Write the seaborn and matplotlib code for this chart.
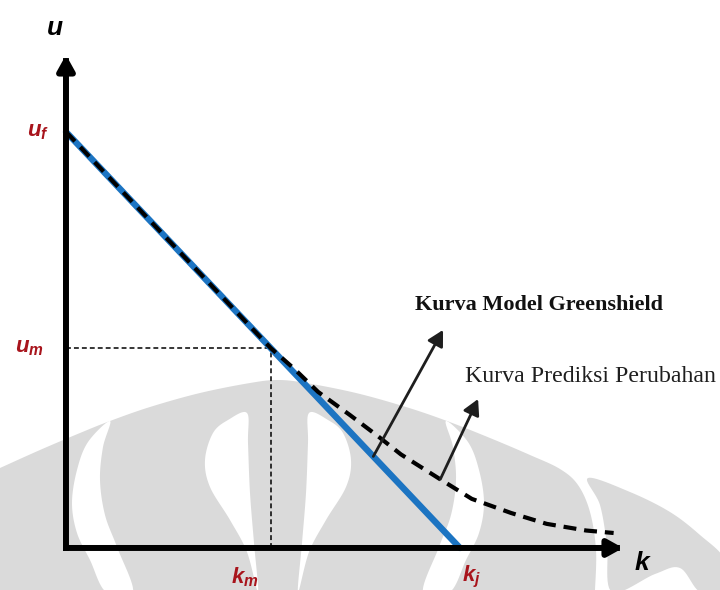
import matplotlib
matplotlib.use("Agg")
import matplotlib.pyplot as plt
import numpy as np
import seaborn as sns
from matplotlib.patches import Polygon

# Greenshield speed-density relationship (schematic units)
u_f = 100      # free-flow speed
k_j = 100      # jam density
k_m = 52       # density at maximum flow
u_m = 48       # speed at maximum flow

green_k = [0, k_j]
green_u = [u_f, 0]

# predicted change curve: follows Greenshield up to k_m, then flattens out
pred_k = [0, 52, 58, 64, 72, 79, 85, 95, 103, 113, 122, 132, 139]
pred_u = [100, 48, 43, 37.5, 32, 27, 22.5, 16.5, 11.8, 8.4, 5.8, 4.2, 3.6]

label_green = "Kurva Model Greenshield"
label_pred = "Kurva Prediksi Perubahan"

BLUE = "#1c74c2"
RED = "#a8141c"
GREY = "#dadada"

sns.set_theme(style="white")
plt.rcParams["mathtext.fontset"] = "custom"
plt.rcParams["mathtext.it"] = "Liberation Sans:italic:bold"
plt.rcParams["mathtext.rm"] = "Liberation Sans:bold"


def rounded(points, closed=True, n=12):
    """Catmull-Rom smoothing of an outline, used for the emblem shapes."""
    p = np.asarray(points, float)
    if closed:
        p = np.vstack([p[-1], p, p[0], p[1]])
    else:
        p = np.vstack([p[0], p, p[-1]])
    out = []
    t = np.linspace(0, 1, n, endpoint=False)[:, None]
    for i in range(1, len(p) - 2):
        p0, p1, p2, p3 = p[i - 1], p[i], p[i + 1], p[i + 2]
        seg = 0.5 * ((2 * p1) + (-p0 + p2) * t
                     + (2 * p0 - 5 * p1 + 4 * p2 - p3) * t ** 2
                     + (-p0 + 3 * p1 - 3 * p2 + p3) * t ** 3)
        out.append(seg)
    if not closed:
        out.append(p[-2][None, :])
    return np.vstack(out)


fig = plt.figure(figsize=(7.2, 5.9), dpi=100)

# faint emblem behind the diagram (figure pixel space, y downward)
bg = fig.add_axes([0, 0, 1, 1], zorder=0)
bg.set_xlim(0, 720)
bg.set_ylim(590, 0)
bg.axis("off")

body_top = [(0, 468), (40, 450), (80, 433), (110, 421), (150, 407), (200, 393),
            (250, 383), (278, 380), (306, 383), (356, 393), (406, 407),
            (447, 421), (490, 438), (530, 455), (560, 469), (578, 485),
            (590, 512), (596, 550), (595, 590)]
body = np.vstack([rounded(body_top, closed=False), [(0, 590)]])
outer_right = [(588, 478), (630, 492), (670, 512), (700, 535), (725, 560),
               (725, 592), (700, 592), (680, 568), (655, 574), (612, 592),
               (607, 545), (600, 505)]
gap_left = [(110, 421), (88, 442), (77, 470), (72, 503), (77, 533), (90, 560),
            (106, 592), (133, 592), (117, 547), (105, 515), (100, 480),
            (103, 447)]
gap_right = [(556 - x, y) for x, y in gap_left]
petal_left = [(247, 413), (228, 420), (213, 433), (205, 460), (210, 487),
              (230, 520), (247, 552), (258, 592), (254, 543), (250, 493),
              (248, 443)]
petal_right = [(556 - x, y) for x, y in petal_left]

bg.add_patch(Polygon(body, closed=True, fc=GREY, ec="none"))
bg.add_patch(Polygon(rounded(outer_right), closed=True, fc=GREY, ec="none"))
for shape in (gap_left, gap_right, petal_left, petal_right):
    bg.add_patch(Polygon(rounded(shape), closed=True, fc="white", ec="none"))

# main diagram axes
ax = fig.add_axes([0, 0, 1, 1], zorder=1)
ax.patch.set_alpha(0)
ax.set_xlim(-16.75, 166.0)
ax.set_ylim(-10.1, 131.7)
ax.axis("off")

# guide lines to (k_m, u_m)
ax.plot([0, k_m], [u_m, u_m], color="black", lw=1.1, ls=(0, (3.2, 2.0)), zorder=2)
ax.plot([k_m, k_m], [0, u_m], color="black", lw=1.1, ls=(0, (3.2, 2.0)), zorder=2)

# curves
sns.lineplot(x=green_k, y=green_u, ax=ax, color=BLUE, lw=4.6, sort=False,
             legend=False, zorder=3)
sns.lineplot(x=pred_k, y=pred_u, ax=ax, color="black", lw=3.0, sort=False,
             legend=False, zorder=4)
ax.lines[-1].set_linestyle((0, (3.1, 1.9)))

# axes with arrow heads
axis_style = dict(arrowstyle="-|>,head_length=0.45,head_width=0.25",
                  lw=4.3, color="black", shrinkA=0, shrinkB=0,
                  mutation_scale=20, capstyle="projecting")
ax.annotate("", xy=(0, 118.5), xytext=(0, 0), arrowprops=axis_style, zorder=5)
ax.annotate("", xy=(141.4, 0), xytext=(0, 0), arrowprops=axis_style, zorder=5)

ax.text(-2.8, 125.0, r"$u$", fontsize=19, color="black", ha="center", va="center")
ax.text(146.4, -3.6, r"$k$", fontsize=19, color="black", ha="center", va="center")

ax.text(-4.3, u_f, r"$u_f$", fontsize=16, color=RED, ha="right", va="center")
ax.text(-5.6, u_m, r"$u_m$", fontsize=16, color=RED, ha="right", va="center")
ax.text(k_m - 6.5, -7.0, r"$k_m$", fontsize=16, color=RED, ha="center", va="center")
ax.text(k_j + 2.8, -7.0, r"$k_j$", fontsize=16, color=RED, ha="center", va="center")

# callouts
call_style = dict(arrowstyle="-|>,head_length=0.55,head_width=0.3",
                  lw=2.0, color="#1e1e1e", shrinkA=0, shrinkB=0,
                  mutation_scale=17)
k_call = 78
ax.annotate("", xy=(95.7, 52.4), xytext=(k_call, u_f * (1 - k_call / k_j)),
            arrowprops=call_style, zorder=6)
i_call = pred_k.index(95)
ax.annotate("", xy=(104.6, 35.8), xytext=(pred_k[i_call], pred_u[i_call]),
            arrowprops=call_style, zorder=6)

ax.text(88.6, 58.4, label_green, fontsize=16, fontweight="bold",
        family="Liberation Serif", color="#111111", ha="left", va="center")
ax.text(101.3, 41.1, label_pred, fontsize=17.2, family="Liberation Serif",
        color="#1e1e1e", ha="left", va="center")

fig.savefig("out.png", dpi=100)
